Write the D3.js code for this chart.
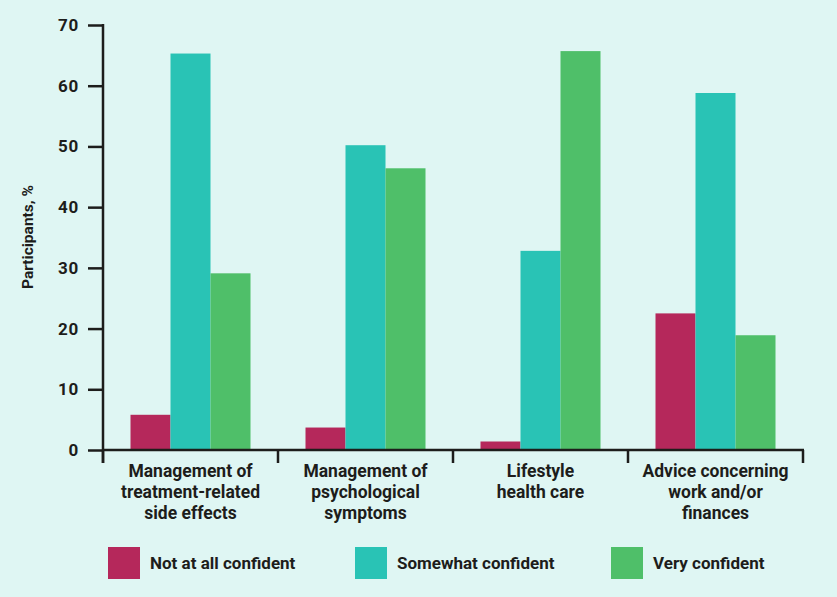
<!DOCTYPE html>
<html><head><meta charset="utf-8">
<script src="https://cdn.jsdelivr.net/npm/d3@7"></script>
<style>html,body{margin:0;padding:0;background:#dff6f3;}svg{display:block;}</style>
</head><body>
<svg id="chart" width="837" height="597"></svg>
<script>
const categories = [
  ["Management of","treatment-related","side effects"],
  ["Management of","psychological","symptoms"],
  ["Lifestyle","health care"],
  ["Advice concerning","work and/or","finances"]
];
const seriesNames = ["Not at all confident","Somewhat confident","Very confident"];
const notAtAll = [5.8, 3.7, 1.4, 22.5];
const somewhat = [65.3, 50.2, 32.8, 58.8];
const very = [29.1, 46.4, 65.7, 18.9];
const yTicks = [0,10,20,30,40,50,60,70];
const colors = ["#b5285b","#29c3b5","#4fbf69"];

(function(){
const series = [notAtAll, somewhat, very];
const svg = d3.select("#chart");
const W = 837, H = 597;
svg.append("rect").attr("width",W).attr("height",H).attr("fill","#dff6f3");
const font = "Roboto, 'DejaVu Sans', sans-serif";
const ink = "#1d1d1b";

const mLeft = 103, mRight = 803, mTop = 25, mBottom = 450;
const catIdx = categories.map((c,i)=>i);
const x0 = d3.scaleBand().domain(catIdx).range([mLeft,mRight]).paddingInner(0).paddingOuter(0);
const x1 = d3.scaleBand().domain([0,1,2]).range([27.5, x0.bandwidth()-27.5]).padding(0);
const y = d3.scaleLinear().domain([0,70]).range([mBottom, mTop]);

const g = svg.append("g");
catIdx.forEach(ci=>{
  series.forEach((s,si)=>{
    g.append("rect")
      .attr("x", x0(ci)+x1(si))
      .attr("y", y(s[ci]))
      .attr("width", x1.bandwidth())
      .attr("height", y(0)-y(s[ci]))
      .attr("fill", colors[si]);
  });
});

const yAxis = svg.append("g").attr("transform",`translate(${mLeft},0)`)
  .call(d3.axisLeft(y).tickValues(yTicks).tickSize(15).tickPadding(9));
yAxis.select(".domain").remove();
yAxis.selectAll(".tick line").attr("stroke",ink).attr("stroke-width",2.5);
yAxis.selectAll(".tick text").attr("fill",ink).style("font-family",font)
  .style("font-weight","700").style("font-size","17px").style("letter-spacing","0.8px");
svg.append("line").attr("x1",mLeft).attr("x2",mLeft).attr("y1",y(70)-1).attr("y2",mBottom+13)
  .attr("stroke",ink).attr("stroke-width",2.5);

svg.append("line").attr("x1",mLeft).attr("x2",mRight+1).attr("y1",mBottom).attr("y2",mBottom)
  .attr("stroke",ink).attr("stroke-width",2.5);
const bounds = catIdx.map(i=>x0(i)).concat([mRight]);
svg.selectAll(".xtick").data(bounds).enter().append("line")
  .attr("x1",d=>d).attr("x2",d=>d).attr("y1",mBottom).attr("y2",mBottom+13)
  .attr("stroke",ink).attr("stroke-width",2.5);

catIdx.forEach(ci=>{
  const t = svg.append("text").attr("text-anchor","middle")
    .attr("fill",ink).style("font-family",font).style("font-weight","700").style("font-size","17.5px");
  categories[ci].forEach((line,li)=>{
    t.append("tspan").attr("x", x0(ci)+x0.bandwidth()/2).attr("y", 477+li*21).text(line);
  });
});

svg.append("text").attr("transform",`translate(33,237) rotate(-90)`).attr("text-anchor","middle")
  .attr("fill",ink).style("font-family",font).style("font-weight","700").style("font-size","15.5px")
  .text("Participants, %");

const legX = [108, 355, 611];
seriesNames.forEach((n,i)=>{
  svg.append("rect").attr("x",legX[i]).attr("y",547).attr("width",32).attr("height",32).attr("fill",colors[i]);
  svg.append("text").attr("x",legX[i]+42).attr("y",569).attr("fill",ink)
    .style("font-family",font).style("font-weight","700").style("font-size","17px").text(n);
});
})();
</script>
</body></html>
